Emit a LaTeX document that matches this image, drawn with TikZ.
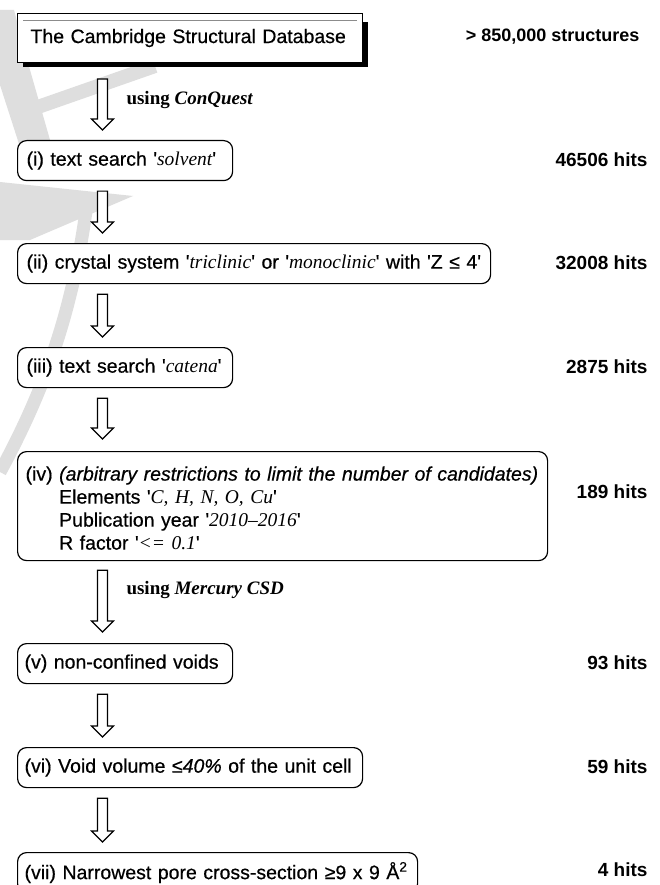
\documentclass[tikz,border=0pt]{standalone}
\usepackage{fontspec}
\setmainfont{Liberation Sans}[UprightFeatures={FakeBold=0.5}, ItalicFeatures={FakeBold=0.5}]
\newfontfamily\tnr{Liberation Serif}
\usetikzlibrary{calc}
\newcommand\q{\textquotesingle}
\newcommand\ts[1]{{\tnr\itshape #1}}
\newcommand\flowarrow[4]{%
  \draw[flow] let \p1=(#1.south), \p2=(#2.north) in
    (97.5pt,\y1-#3pt) -- (107.5pt,\y1-#3pt) -- (107.5pt,\y2+#4pt+11pt)
    -- (113.5pt,\y2+#4pt+11pt) -- (102.5pt,\y2+#4pt) -- (91.5pt,\y2+#4pt+11pt)
    -- (97.5pt,\y2+#4pt+11pt) -- cycle;}
\begin{document}
\begin{tikzpicture}[x=1pt,y=-1pt,
  stepbox/.style={draw, line width=1.2pt, rounded corners=9pt, fill=white,
    anchor=north west, align=left, inner xsep=9pt, inner ysep=0pt,
    font=\fontsize{19.5}{22}\selectfont},
  hits/.style={anchor=east, font=\bfseries\fontsize{19}{21}\selectfont},
  via/.style={anchor=west, font=\tnr\bfseries\fontsize{19}{22}\selectfont},
  flow/.style={draw, line width=1.1pt, fill=white, line join=miter},
  wm/.style={fill=black!13, draw=none}]
\clip (0,0) rectangle (660,885);
\fill[white] (0,0) rectangle (660,885);
% watermark
\fill[wm] (0,10) -- (14,10) -- (30,70) -- (60,175) -- (30,178) -- (0,85) -- cycle;
\draw[black!13, line width=14pt] (35,108) -- (155,66);
\fill[wm] (0,182) -- (133,196) -- (30,240) -- (0,240) -- cycle;
\draw[black!13, line width=13pt] (88,196) .. controls (75,300) and (50,380) .. (0,472);
% database box with shadow
\fill[black] (23,22) rectangle (368,67);
\node[draw, line width=1pt, fill=white, anchor=north west, minimum width=345pt,
  minimum height=49pt, inner xsep=13pt, text width=319pt, align=left,
  font=\fontsize{19.5}{22}\selectfont] (b0) at (17,13) {The Cambridge Structural Database};
\draw[black!45, line width=0.8pt] (23,20) -- (357,20);
\node[hits, font=\bfseries\fontsize{18}{20}\selectfont] (h0) at (643,37) {> 850,000 structures};
% steps
\node[stepbox, text width=197pt, minimum height=40pt] (b1) at (17,140)
  {(i) text search \q\ts{solvent}\q};
\node[stepbox, text width=455pt, minimum height=40pt] (b2) at (17,243)
  {(ii) crystal system \q\ts{triclinic}\q\ or \q\ts{monoclinic}\q\ with \q Z ≤ 4\q};
\node[stepbox, text width=197pt, minimum height=40pt] (b3) at (17,347)
  {(iii) text search \q\ts{catena}\q};
\node[stepbox, inner xsep=8pt, text width=514pt, minimum height=109pt,
  font=\fontsize{19.5}{23}\selectfont] (b4) at (17,451)
  {\rule{0pt}{22pt}\mbox{(iv) \textit{(arbitrary restrictions to limit the number of candidates)}}\\
   \phantom{(iv) }Elements \q\ts{C, H, N, O, Cu}\q\\
   \phantom{(iv) }Publication year \q\ts{2010–2016}\q\\
   \phantom{(iv) }R factor \q\ts{<= 0.1}\q};
\node[stepbox, inner xsep=7pt, text width=201pt, minimum height=40pt] (b5) at (17,643)
  {(v) non-confined voids};
\node[stepbox, inner xsep=7pt, text width=331pt, minimum height=40pt] (b6) at (17,747)
  {(vi) Void volume ≤\textit{40\%} of the unit cell};
\node[stepbox, inner xsep=7pt, text width=386pt, minimum height=40pt] (b7) at (17,852)
  {(vii) Narrowest pore cross-section ≥9 x 9 Å\textsuperscript{2}};
% hit counts
\node[hits] (h1) at (651,160) {46506 hits};
\node[hits] (h2) at (651,263) {32008 hits};
\node[hits] (h3) at (651,367) {2875 hits};
\node[hits] (h4) at (651,492) {189 hits};
\node[hits] (h5) at (651,663) {93 hits};
\node[hits] (h6) at (651,767) {59 hits};
\node[hits] (h7) at (651,870) {4 hits};
% arrows
\flowarrow{b0}{b1}{16}{10}
\flowarrow{b1}{b2}{10}{10}
\flowarrow{b2}{b3}{10}{10}
\flowarrow{b3}{b4}{10}{12}
\flowarrow{b4}{b5}{9}{11}
\flowarrow{b5}{b6}{10}{10}
\flowarrow{b6}{b7}{10}{10}
\node[via] (u1) at (123,100) {using \textit{ConQuest}};
\node[via] (u2) at (123,590) {using \textit{Mercury CSD}};
\end{tikzpicture}
\end{document}
